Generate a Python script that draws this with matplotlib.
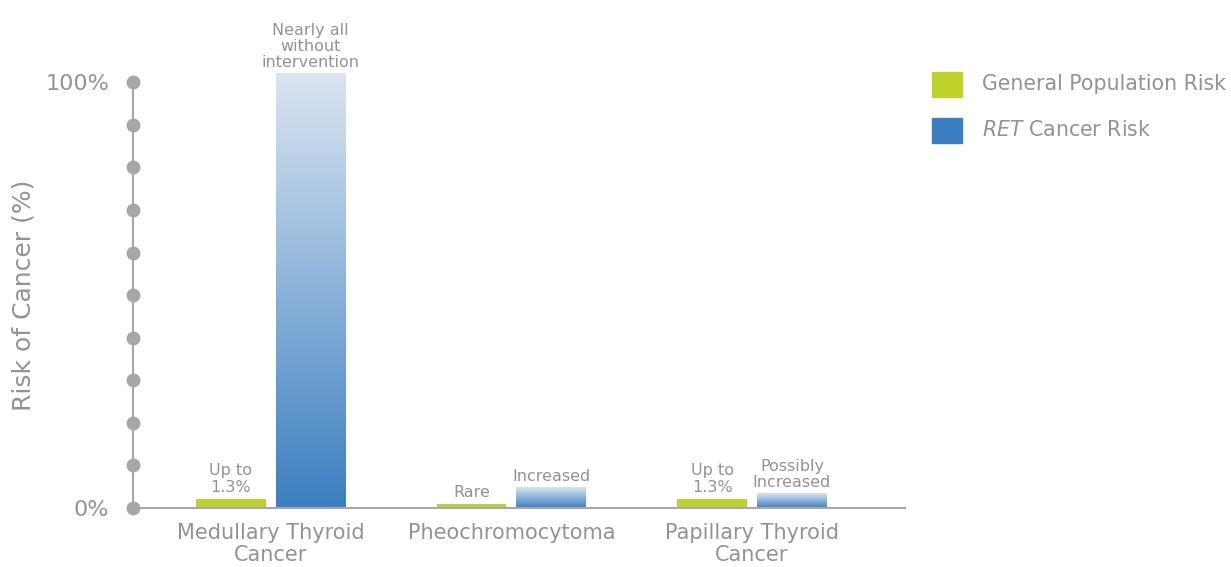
import numpy as np
import matplotlib
matplotlib.use("Agg")
import matplotlib.pyplot as plt
from matplotlib.colors import LinearSegmentedColormap

plt.rcParams['font.family'] = ['DejaVu Sans']

# data
categories = ["Medullary Thyroid\nCancer", "Pheochromocytoma", "Papillary Thyroid\nCancer"]
general_risk = [2.1, 1.0, 2.1]
ret_risk = [102, 4.7, 3.3]
general_labels = ["Up to\n1.3%", "Rare", "Up to\n1.3%"]
ret_labels = ["Nearly all\nwithout\nintervention", "Increased", "Possibly\nIncreased"]
y_ticks = [0, 10, 20, 30, 40, 50, 60, 70, 80, 90, 100]

GREEN = "#bfd22b"
BLUE = "#3b7fc0"
GREY = "#939395"
AXIS = "#a7a7aa"

fig = plt.figure(figsize=(12.31, 5.67), dpi=100)
ax = fig.add_axes([0.108, 0.104, 0.627, 0.751])

x = np.arange(len(categories))
width = 0.29
off = 0.166

cmap = LinearSegmentedColormap.from_list("ret", ["#dbe5f2", BLUE])
grad = np.linspace(0, 1, 256).reshape(-1, 1)

for i in range(len(categories)):
    # general population bar
    ax.bar(x[i] - off, general_risk[i], width, color=GREEN, clip_on=False, zorder=2)
    ax.annotate(general_labels[i], (x[i] - off, general_risk[i]), xytext=(0, 3),
                textcoords="offset points", ha="center", va="bottom",
                fontsize=11.5, color=GREY, linespacing=1.15, annotation_clip=False)

    # RET bar with vertical gradient (light on top, darker at the base)
    x0 = x[i] + off - width / 2
    x1 = x[i] + off + width / 2
    ax.imshow(grad, cmap=cmap, extent=[x0, x1, 0, ret_risk[i]], origin="upper",
              aspect="auto", clip_on=False, zorder=2)
    ax.annotate(ret_labels[i], (x[i] + off, ret_risk[i]), xytext=(0, 3),
                textcoords="offset points", ha="center", va="bottom",
                fontsize=11.5, color=GREY, linespacing=1.05, annotation_clip=False)

ax.set_xlim(-0.573, 2.635)
ax.set_ylim(0, 100)
ax.set_aspect("auto")

# axis styling
for s in ["top", "right", "left"]:
    ax.spines[s].set_visible(False)
ax.spines["bottom"].set_color(AXIS)
ax.spines["bottom"].set_linewidth(1.5)
ax.plot([-0.573, -0.573], [0, 100], color=AXIS, lw=1.5, clip_on=False, zorder=1)
ax.plot([-0.573] * len(y_ticks), y_ticks, "o", color=AXIS, ms=9,
        clip_on=False, zorder=3)

ax.set_yticks([0, 100])
ax.set_yticklabels(["0%", "100%"], fontsize=16, color=GREY)
ax.tick_params(axis="y", length=0, pad=17)
ax.set_xticks(x)
ax.set_xticklabels(categories, fontsize=15, color=GREY, linespacing=1.1)
ax.tick_params(axis="x", length=0, pad=11)
ax.set_ylabel("Risk of Cancer (%)", fontsize=18, color=GREY)
ax.yaxis.set_label_coords(-0.126, 0.5)

# legend drawn as squares + text in figure coords
fig.patches.append(plt.Rectangle((932 / 1231, 1 - 97 / 567), 30 / 1231, 25 / 567,
                                 transform=fig.transFigure, color=GREEN))
fig.patches.append(plt.Rectangle((932 / 1231, 1 - 143 / 567), 30 / 1231, 25 / 567,
                                 transform=fig.transFigure, color=BLUE))
fig.text(982 / 1231, 1 - 84.5 / 567, "General Population Risk", fontsize=14.8,
         color=GREY, va="center")
fig.text(982 / 1231, 1 - 130.5 / 567, "$\\it{RET}$ Cancer Risk", fontsize=14.8,
         color=GREY, va="center")

fig.savefig("out.png", dpi=100)
